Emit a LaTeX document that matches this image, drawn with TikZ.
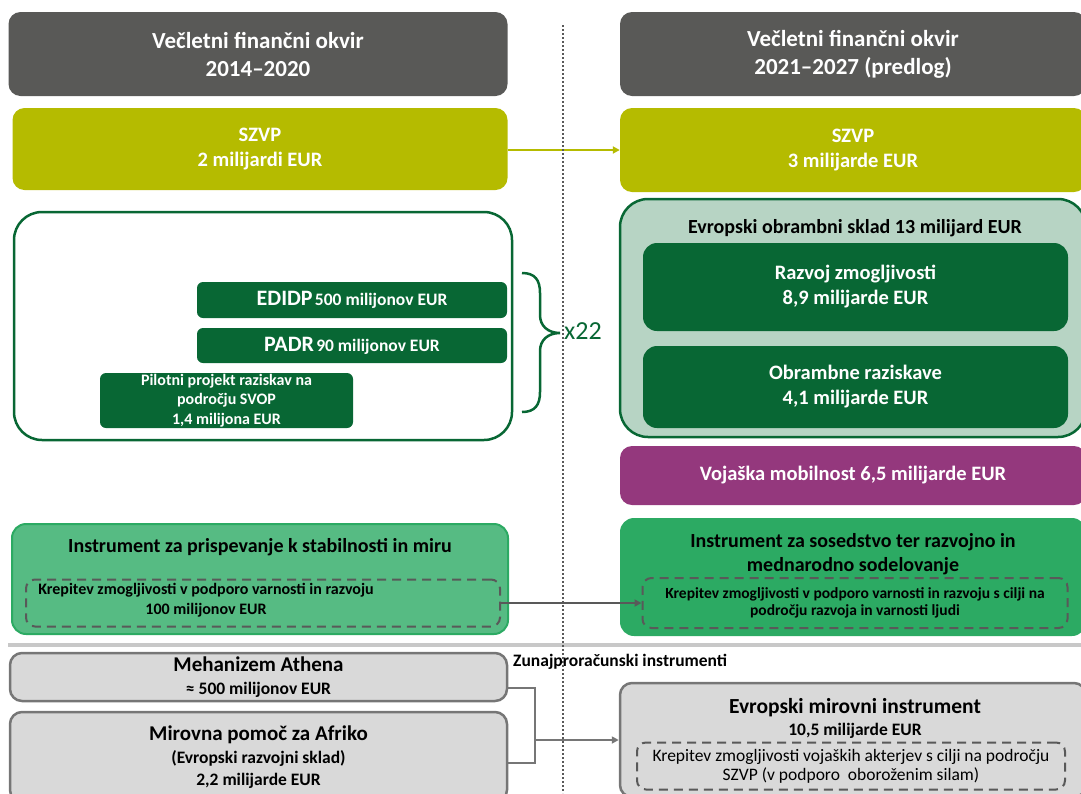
\documentclass[tikz,border=0pt]{standalone}
\usepackage{fontspec}
\setmainfont{Carlito}
\usetikzlibrary{arrows.meta}
\definecolor{hdrgray}{RGB}{89,89,87}
\definecolor{szvpolive}{RGB}{181,187,0}
\definecolor{darkgreen}{RGB}{8,103,52}
\definecolor{fundfill}{RGB}{183,212,196}
\definecolor{mobpurple}{RGB}{148,56,125}
\definecolor{instgreen}{RGB}{44,170,99}
\definecolor{instlight}{RGB}{86,187,131}
\definecolor{boxgray}{RGB}{217,217,217}
\definecolor{edgegray}{RGB}{118,118,118}
\definecolor{dashgray}{RGB}{89,89,89}
\definecolor{rulegray}{RGB}{200,200,200}

\begin{document}
\begin{tikzpicture}[x=1pt, y=-1pt,
        hdr/.style={rectangle, rounded corners=12pt, fill=hdrgray, text=white, align=center, inner sep=0pt, font=\bfseries\fontsize{23}{28}\selectfont},
        szvp/.style={rectangle, rounded corners=12pt, fill=szvpolive, text=white, align=center, inner sep=0pt, font=\bfseries\fontsize{20.5}{25}\selectfont},
        outerbox/.style={rectangle, rounded corners=28pt, draw=darkgreen, line width=2.5pt, inner sep=0pt},
        prog/.style={rectangle, rounded corners=6pt, fill=darkgreen, text=white, align=center, inner sep=0pt},
        fundpart/.style={rectangle, rounded corners=14pt, fill=darkgreen, text=white, align=center, inner sep=0pt, font=\bfseries\fontsize{20.5}{25}\selectfont},
        instbox/.style={rectangle, rounded corners=14pt, inner sep=0pt},
        dashbox/.style={rectangle, rounded corners=9pt, draw=dashgray, line width=2pt, dash pattern=on 9pt off 6pt, inner sep=0pt, align=center},
        graybox/.style={rectangle, rounded corners=12pt, fill=boxgray, draw=edgegray, line width=2.5pt, inner sep=0pt, align=center},
        txt/.style={align=center, inner sep=0pt, font=\bfseries},
        arrow/.style={-{Triangle[length=7pt,width=7pt]}, line width=2pt},
        link/.style={draw=edgegray, line width=2.5pt}
    ]
        \clip (0,0) rectangle (1081,793);

        % Headers
        \node[hdr, minimum width=499pt, minimum height=84pt] (hdrL) at (258,54) {Večletni finančni okvir\\2014–2020};
        \node[hdr, minimum width=466pt, minimum height=84pt] (hdrR) at (853,54) {Večletni finančni okvir\\2021–2027 (predlog)};

        % SZVP
        \node[szvp, minimum width=495pt, minimum height=82pt] (szvpL) at (260,149) {SZVP\\2 milijardi EUR};
        \node[szvp, minimum width=466pt, minimum height=84pt] (szvpR) at (853,150) {SZVP\\3 milijarde EUR};
        \draw[arrow, szvpolive] (szvpL.east |- 0,150) -- (szvpR);

        % Defence programmes 2014-2020
        \node[outerbox, minimum width=498pt, minimum height=228pt] (progL) at (263,326) {};
        \node[prog, minimum width=310pt, minimum height=36pt] (edidp) at (352,300)
            {{\bfseries\fontsize{22}{24}\selectfont EDIDP} {\bfseries\fontsize{17.5}{20}\selectfont 500 milijonov EUR}};
        \node[prog, minimum width=310pt, minimum height=35pt] (padr) at (352,345.5)
            {{\bfseries\fontsize{22}{24}\selectfont PADR} {\bfseries\fontsize{17.5}{20}\selectfont 90 milijonov EUR}};
        \node[prog, minimum width=253pt, minimum height=55pt, font=\bfseries\fontsize{16}{19.5}\selectfont] (pilot) at (226.5,400.5)
            {Pilotni projekt raziskav na\\področju SVOP\\1,4 milijona EUR};

        % Brace
        \coordinate (brtop) at (522,273);
        \coordinate (brtip) at (560,333);
        \coordinate (brbot) at (522,412);
        \draw[darkgreen, line width=2.5pt] (brtop) .. controls (535,273) and (540,280) .. (540,293) -- (540,315)
            .. controls (540,326) and (548,333) .. (brtip) .. controls (548,333) and (540,340) .. (540,351) -- (540,392)
            .. controls (540,405) and (535,412) .. (brbot);
        \node[anchor=west, inner sep=0pt, text=darkgreen, font=\fontsize{26}{28}\selectfont] (times) at (564,331) {x22};

        % European Defence Fund
        \node[rectangle, rounded corners=28pt, fill=fundfill, draw=darkgreen, line width=2.5pt, minimum width=466pt, minimum height=238pt] (edf) at (853,318) {};
        \node[txt, font=\bfseries\fontsize{20}{24}\selectfont] (edftitle) at (855,228) {Evropski obrambni sklad 13 milijard EUR};
        \node[fundpart, minimum width=425pt, minimum height=88pt] (razvoj) at (855.5,287) {Razvoj zmogljivosti\\8,9 milijarde EUR};
        \node[fundpart, minimum width=425pt, minimum height=82pt] (raziskave) at (855.5,387) {Obrambne raziskave\\4,1 milijarde EUR};

        % Military mobility
        \node[rectangle, rounded corners=12pt, fill=mobpurple, text=white, minimum width=466pt, minimum height=59pt, font=\bfseries\fontsize{20.5}{24}\selectfont] (mob) at (853,475.5) {Vojaška mobilnost 6,5 milijarde EUR};

        % Instruments
        \node[instbox, fill=instlight, draw=instgreen, line width=2pt, minimum width=496pt, minimum height=110pt] (instL) at (260,579) {};
        \node[txt, font=\bfseries\fontsize{20}{24}\selectfont] (instLtitle) at (260,547) {Instrument za prispevanje k stabilnosti in miru};
        \node[dashbox, minimum width=474pt, minimum height=47pt] (kreL) at (263,603) {};
        \node[txt, font=\bfseries\fontsize{16}{20}\selectfont] (kreLtext) at (206,600) {Krepitev zmogljivosti v podporo varnosti in razvoju\\100 milijonov EUR};

        \node[instbox, fill=instgreen, minimum width=466pt, minimum height=118pt] (instR) at (853,577) {};
        \node[txt, font=\bfseries\fontsize{20}{24}\selectfont] (instRtitle) at (853,554) {Instrument za sosedstvo ter razvojno in\\mednarodno sodelovanje};
        \node[dashbox, minimum width=425pt, minimum height=50pt, font=\bfseries\fontsize{15.5}{17.5}\selectfont] (kreR) at (855,603)
            {Krepitev zmogljivosti v podporo varnosti in razvoju s cilji na\\področju razvoja in varnosti ljudi};
        \draw[arrow, dashgray] (kreL) -- (kreR);

        % Separator
        \draw[rulegray, line width=3.5pt] (8,645) -- (1081,645);

        % Off-budget instruments
        \node[graybox, minimum width=497pt, minimum height=48pt, font=\bfseries\fontsize{21}{22}\selectfont] (athena) at (258.5,677)
            {Mehanizem Athena\\[1pt]\fontsize{17.5}{18}\selectfont ≈ 500 milijonov EUR};
        \node[graybox, minimum width=497pt, minimum height=90pt, font=\bfseries\fontsize{21}{22}\selectfont] (afriko) at (258.5,757)
            {Mirovna pomoč za Afriko\\[1pt]\fontsize{17.5}{21}\selectfont (Evropski razvojni sklad)\\\fontsize{17.5}{21}\selectfont 2,2 milijarde EUR};
        \node[anchor=west, txt, font=\bfseries\fontsize{17.5}{20}\selectfont] (zunaj) at (513,662) {Zunajproračunski instrumenti};

        \node[graybox, minimum width=466pt, minimum height=114pt] (epf) at (853,740) {};
        \node[txt, font=\bfseries\fontsize{21.5}{22}\selectfont] (epftitle) at (855,718)
            {Evropski mirovni instrument\\\fontsize{17.5}{20}\selectfont 10,5 milijarde EUR};
        \node[dashbox, minimum width=428pt, minimum height=47pt, font=\fontsize{17.5}{19}\selectfont] (epfdash) at (851,766)
            {Krepitev zmogljivosti vojaških akterjev s cilji na področju\\SZVP (v podporo\ \ oboroženim\ silam)};

        \coordinate (jn) at (535,740);
        \draw[link] ([yshift=-11pt]athena.east) -| (jn) |- ([yshift=-6pt]afriko.east);
        \draw[arrow, edgegray] (jn) -- (epf);

        % Divider
        \draw[dashgray, line width=2pt, dash pattern=on 2pt off 2pt] (563,25) -- (563,793);
    \end{tikzpicture}
\end{document}
